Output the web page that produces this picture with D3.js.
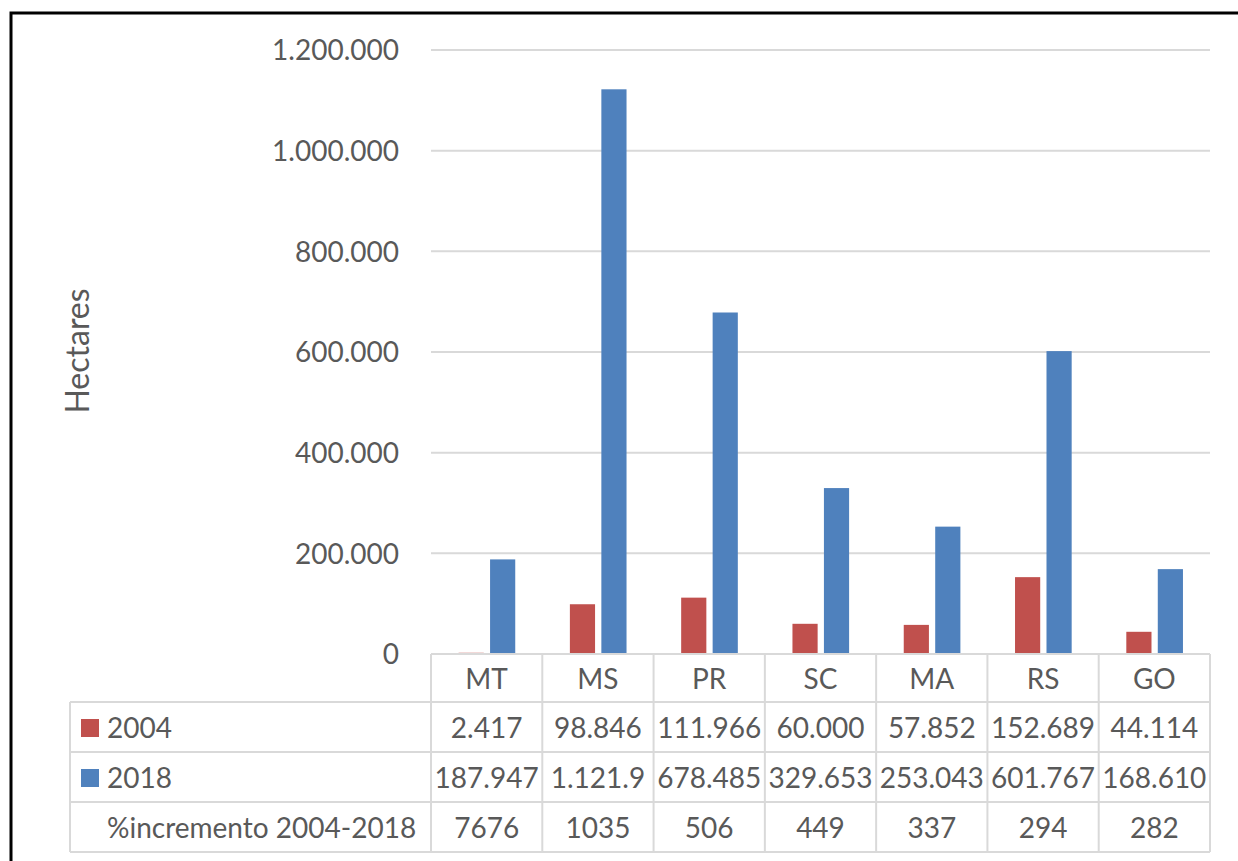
<!DOCTYPE html>
<html>
<head>
<meta charset="utf-8">
<script src="https://cdn.jsdelivr.net/npm/d3@7"></script>
<style>
  html, body { margin: 0; padding: 0; background: #fff; }
  svg { display: block; }
  text { font-family: Lato, "Open Sans", sans-serif; fill: #595959; }
</style>
</head>
<body>
<script>
// Area (hectares) by state, 2004 vs 2018, with the percentage increase
const states = ["MT", "MS", "PR", "SC", "MA", "RS", "GO"];
const seriesNames = ["2004", "2018"];
const values2004 = [2417, 98846, 111966, 60000, 57852, 152689, 44114];
const values2018 = [187947, 1121900, 678485, 329653, 253043, 601767, 168610];
const pctIncrease = [7676, 1035, 506, 449, 337, 294, 282];
const pctLabel = "%incremento 2004-2018";
const yTicks = [0, 200000, 400000, 600000, 800000, 1000000, 1200000];
const colors = { "2004": "#C0504D", "2018": "#4F81BD" };

const W = 1238, H = 861;
const plot = { left: 431, right: 1210, top: 50, bottom: 654 };
const rowEdges = [654, 702, 752, 802, 852];
const tableLeft = 70;
const gridColor = "#d9d9d9";
const fs = 28;

const svg = d3.select("body").append("svg").attr("width", W).attr("height", H);

// outer chart frame (runs past the right and bottom edges)
svg.append("rect")
  .attr("x", 11).attr("y", 13).attr("width", W + 20).attr("height", H + 20)
  .attr("fill", "none").attr("stroke", "#000").attr("stroke-width", 3);

const y = d3.scaleLinear().domain([0, 1200000]).range([plot.bottom, plot.top]);
const x = d3.scaleBand().domain(states).range([plot.left, plot.right]).padding(0);
const bw = x.bandwidth();
const xInner = d3.scaleBand().domain(seriesNames)
  .range([bw * 0.248, bw * 0.757]).paddingInner(0.2);

const fmt = d3.formatLocale({ decimal: ",", thousands: ".", grouping: [3], currency: ["", ""] }).format(",d");

// horizontal gridlines
svg.append("g").selectAll("line").data(yTicks.filter(d => d > 0)).join("line")
  .attr("x1", plot.left).attr("x2", plot.right)
  .attr("y1", d => y(d)).attr("y2", d => y(d))
  .attr("stroke", gridColor).attr("stroke-width", 2);

// y axis labels
const yAxis = d3.axisLeft(y).tickValues(yTicks).tickFormat(fmt).tickSize(0).tickPadding(0);
const gy = svg.append("g").attr("transform", `translate(399,0)`).call(yAxis);
gy.select(".domain").remove();
gy.selectAll("text").attr("font-size", fs).attr("fill", "#595959")
  .style("font-family", "Lato, 'Open Sans', sans-serif").attr("dy", "0.35em");

// axis title
svg.append("text")
  .attr("transform", `translate(89,351) rotate(-90)`)
  .attr("text-anchor", "middle").attr("font-size", 32)
  .text("Hectares");

// bars
const seriesData = seriesNames.map((s, si) => ({
  key: s, vals: si === 0 ? values2004 : values2018
}));
const groups = svg.append("g").selectAll("g").data(seriesData).join("g")
  .attr("fill", d => colors[d.key]);
groups.selectAll("rect").data(d => d.vals.map((v, i) => ({ key: d.key, state: states[i], v }))).join("rect")
  .attr("x", d => x(d.state) + xInner(d.key))
  .attr("width", xInner.bandwidth())
  .attr("y", d => y(d.v))
  .attr("height", d => y(0) - y(d.v));

// data table grid
const tg = svg.append("g").attr("stroke", gridColor).attr("stroke-width", 2).attr("fill", "none");
// category row (only spans the plot columns)
tg.append("line").attr("x1", plot.left).attr("x2", plot.right).attr("y1", rowEdges[0]).attr("y2", rowEdges[0]);
// rows below span the legend column too
rowEdges.slice(1).forEach(r => {
  tg.append("line").attr("x1", tableLeft).attr("x2", plot.right).attr("y1", r).attr("y2", r);
});
tg.append("line").attr("x1", tableLeft).attr("x2", tableLeft).attr("y1", rowEdges[1]).attr("y2", rowEdges[4]);
const colEdges = states.map(s => x(s)).concat([plot.right]);
colEdges.forEach(cx => {
  tg.append("line").attr("x1", cx).attr("x2", cx).attr("y1", rowEdges[0]).attr("y2", rowEdges[4]);
});

// category labels
svg.append("g").selectAll("text").data(states).join("text")
  .attr("x", d => x(d) + bw / 2)
  .attr("y", (rowEdges[0] + rowEdges[1]) / 2 + 1)
  .attr("dy", "0.35em").attr("text-anchor", "middle").attr("font-size", fs)
  .text(d => d);

// table cell values, trimmed to fit their cell
function fitCell(sel, maxW) {
  sel.each(function () {
    const t = d3.select(this);
    let s = t.text();
    while (this.getComputedTextLength() > maxW && s.length > 1) {
      s = s.slice(0, -1);
      t.text(s);
    }
  });
}
const rows = [
  { vals: values2004.map(fmt), key: "2004" },
  { vals: values2018.map(fmt), key: "2018" },
  { vals: pctIncrease.map(String), key: null }
];
rows.forEach((r, ri) => {
  const cy = (rowEdges[ri + 1] + rowEdges[ri + 2]) / 2 + 1;
  svg.append("g").selectAll("text").data(r.vals).join("text")
    .attr("x", (d, i) => x(states[i]) + bw / 2)
    .attr("y", cy).attr("dy", "0.35em").attr("text-anchor", "middle")
    .attr("font-size", fs)
    .text(d => d)
    .call(fitCell, bw - 6);
  // legend cell
  if (r.key) {
    svg.append("rect").attr("x", 81).attr("y", cy - 9).attr("width", 18).attr("height", 18)
      .attr("fill", colors[r.key]);
  }
  svg.append("text").attr("x", 107).attr("y", cy).attr("dy", "0.35em")
    .attr("font-size", fs).text(r.key ? r.key : pctLabel);
});
</script>
</body>
</html>
